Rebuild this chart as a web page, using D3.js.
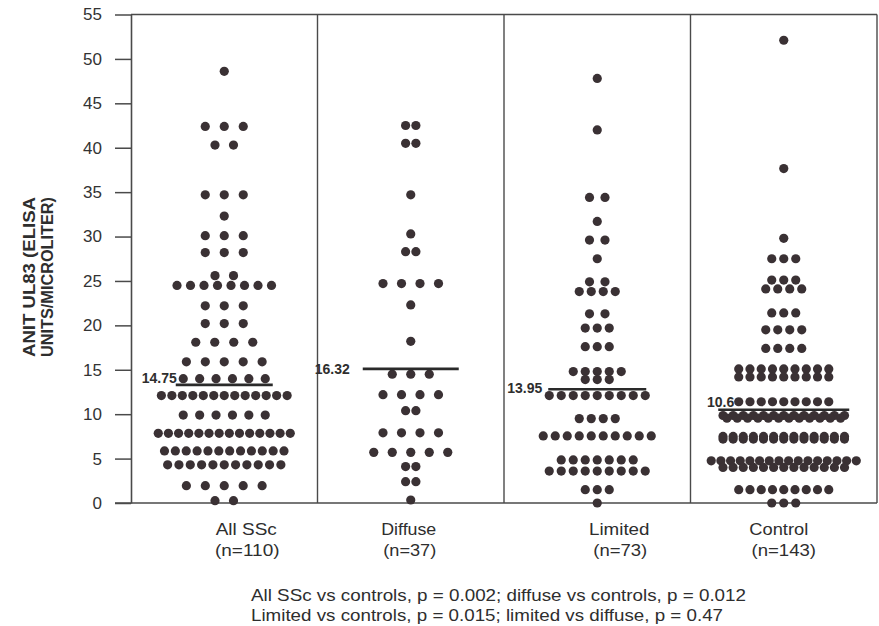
<!DOCTYPE html>
<html><head><meta charset="utf-8">
<script src="https://cdn.jsdelivr.net/npm/d3@7"></script>
<style>body{margin:0;background:#fff} svg{display:block}</style>
</head><body><svg id="c" width="879" height="626"></svg>
<script>
// ---------- data ----------
const categories = ["All SSc", "Diffuse", "Limited", "Control"];
const sampleSizes = ["(n=110)", "(n=37)", "(n=73)", "(n=143)"];
const yTicks = [0, 5, 10, 15, 20, 25, 30, 35, 40, 45, 50, 55];
const yTitle = ["ANIT UL83 (ELISA", "UNITS/MICROLITER)"];

// each row: dots sharing the same value (value, number of dots)
const sscRowValues = [48.6, 42.4, 40.3, 34.7, 32.3, 30.1, 28.2, 25.6, 24.5, 22.2, 20.2, 18.1, 15.9, 14.0, 12.1, 9.9, 7.85, 5.86, 4.3, 1.95, 0.26];
const sscRowCounts = [1, 3, 2, 3, 1, 3, 3, 2, 8, 3, 3, 4, 5, 6, 13, 6, 14, 12, 11, 5, 2];

const diffuseRowValues = [42.5, 40.5, 34.7, 30.3, 28.3, 24.7, 22.3, 18.2, 14.5, 12.2, 10.4, 7.9, 5.7, 4.1, 2.4, 0.34];
const diffuseRowCounts = [2, 2, 1, 1, 2, 4, 1, 1, 3, 4, 2, 4, 5, 2, 2, 1];

const limitedRowValues = [47.8, 42.0, 34.4, 31.7, 29.6, 27.5, 24.9, 23.8, 21.3, 19.7, 17.6, 14.8, 13.9, 12.1, 9.5, 7.55, 4.85, 3.6, 1.5, 0.0];
const limitedRowCounts = [1, 1, 2, 1, 2, 1, 2, 4, 2, 3, 3, 5, 3, 9, 4, 10, 7, 9, 3, 1];

const controlRowValues = [52.1, 37.65, 29.8, 27.5, 25.1, 24.1, 21.4, 19.5, 17.4, 15.1, 14.2, 11.4, 9.85, 9.55, 7.5, 7.2, 4.75, 4.0, 1.5, 0.0];
const controlRowCounts = [1, 1, 1, 3, 3, 4, 3, 4, 4, 9, 9, 9, 13, 12, 13, 13, 16, 13, 9, 3];

// horizontal reference line drawn in each group, and its printed label
const meanLineValues = [13.3, 15.1, 12.8, 10.5];
const meanLabels = ["14.75", "16.32", "13.95", "10.6"];

const footnotes = [
  "All SSc vs controls, p = 0.002; diffuse vs controls, p = 0.012",
  "Limited vs controls, p = 0.015; limited vs diffuse, p = 0.47"
];

const groupRows = [
  [sscRowValues, sscRowCounts],
  [diffuseRowValues, diffuseRowCounts],
  [limitedRowValues, limitedRowCounts],
  [controlRowValues, controlRowCounts]
];

// ---------- layout / style ----------
const plot = {left: 131, right: 877, top: 14.5, bottom: 503};
const dotR = 4.6, dotColor = "#3a3134", ink = "#2e2e2e", lineInk = "#4a4a4a";
// row width = min(base*(n-1), a + b*n); pairs use their own gap
const spacingCfg = [
  {base: 19, pair: 18.5, a: 44.5, b: 6.25},
  {base: 18.5, pair: 10.3, a: 1e4, b: 0},
  {base: 12, pair: 15.5, a: 1e4, b: 0},
  {base: 12, pair: 12, a: 19.3, b: 7.86}
];
const meanHalfWidth = [48.5, 48, 49, 65.5];
const meanLabelDx = [1, -13, -6, 16];
const meanLabelDy = [-7, 0, -1, -8];
const catLabelDx = [22, -2, 22, -5];
const catLabelW = [61, 55, 60.5, 59];
const nLabelW = [64.5, 53, 54, 64.5];

const svg = d3.select("#c");
const font = "'Liberation Sans', Arial, sans-serif";

const x = d3.scaleBand().domain(categories).range([plot.left, plot.right]).padding(0);
const y = d3.scaleLinear().domain([0, 55]).range([plot.bottom, plot.top]);

// frame + dividers
const g = svg.append("g");
g.append("line").attr("x1", plot.left).attr("x2", plot.right).attr("y1", y(55)).attr("y2", y(55))
  .attr("stroke", lineInk).attr("stroke-width", 1.4);
g.append("line").attr("x1", plot.left - 16).attr("x2", plot.right).attr("y1", y(0)).attr("y2", y(0))
  .attr("stroke", lineInk).attr("stroke-width", 1.6);
categories.forEach((c) => {
  const xe = x(c) + x.bandwidth();
  g.append("line").attr("x1", xe).attr("x2", xe).attr("y1", y(55)).attr("y2", y(0))
    .attr("stroke", lineInk).attr("stroke-width", 1.4);
});

// y axis
const yAxis = d3.axisLeft(y).tickValues(yTicks).tickSize(16).tickPadding(13).tickSizeOuter(0);
const ya = svg.append("g").attr("transform", `translate(${plot.left},0)`).call(yAxis);
ya.select(".domain").attr("stroke", lineInk).attr("stroke-width", 1.6);
ya.selectAll(".tick line").attr("stroke", lineInk).attr("stroke-width", 1.5);
ya.selectAll(".tick text").attr("font-family", font).attr("font-size", 17).attr("fill", "#333");

// y title
yTitle.forEach((t, i) => {
  svg.append("text")
    .attr("transform", `translate(${29 + i * 18.5},277) scale(1.05,1) rotate(-90)`)
    .attr("text-anchor", "middle").attr("dominant-baseline", "central")
    .attr("font-family", font).attr("font-weight", "bold").attr("font-size", 16.5)
    .attr("textLength", 160).attr("lengthAdjust", "spacingAndGlyphs")
    .attr("fill", ink).text(t);
});

// dots
function spacing(cfg, n) {
  if (n <= 1) return 0;
  if (n === 2) return cfg.pair;
  const w = Math.min(cfg.base * (n - 1), cfg.a + cfg.b * n);
  return w / (n - 1);
}
const dots = [];
groupRows.forEach(([vals, counts], gi) => {
  const cx = x(categories[gi]) + x.bandwidth() / 2;
  vals.forEach((v, ri) => {
    const n = counts[ri];
    const s = spacing(spacingCfg[gi], n);
    for (let k = 0; k < n; k++) {
      dots.push({cx: cx + (k - (n - 1) / 2) * s, v});
    }
  });
});
svg.append("g").selectAll("circle").data(dots).join("circle")
  .attr("cx", d => d.cx).attr("cy", d => y(d.v)).attr("r", dotR).attr("fill", dotColor);

// mean lines and labels
categories.forEach((c, i) => {
  const cx = x(c) + x.bandwidth() / 2;
  const x0 = cx - meanHalfWidth[i], x1 = cx + meanHalfWidth[i];
  svg.append("line").attr("x1", x0).attr("x2", x1)
    .attr("y1", y(meanLineValues[i])).attr("y2", y(meanLineValues[i]))
    .attr("stroke", "#2a2a2a").attr("stroke-width", 2.6);
  svg.append("text").attr("x", x0 + meanLabelDx[i]).attr("y", y(meanLineValues[i]) + meanLabelDy[i])
    .attr("text-anchor", "end").attr("dominant-baseline", "central")
    .attr("font-family", font).attr("font-weight", "bold").attr("font-size", 14)
    .attr("fill", ink).text(meanLabels[i]);
});

// category labels
categories.forEach((c, i) => {
  const cx = x(c) + x.bandwidth() / 2 + catLabelDx[i];
  svg.append("text").attr("x", cx).attr("y", 535).attr("text-anchor", "middle")
    .attr("font-family", font).attr("font-size", 17).attr("fill", ink)
    .attr("textLength", catLabelW[i]).attr("lengthAdjust", "spacingAndGlyphs").text(c);
  svg.append("text").attr("x", cx + (i === 3 ? 5 : 1)).attr("y", 556).attr("text-anchor", "middle")
    .attr("font-family", font).attr("font-size", 17).attr("fill", ink)
    .attr("textLength", nLabelW[i]).attr("lengthAdjust", "spacingAndGlyphs").text(sampleSizes[i]);
});

// footnotes
const fnW = [495, 472];
footnotes.forEach((t, i) => {
  svg.append("text").attr("x", 251).attr("y", 601 + i * 19.5)
    .attr("font-family", font).attr("font-size", 16.5).attr("fill", ink)
    .attr("textLength", fnW[i]).attr("lengthAdjust", "spacingAndGlyphs").text(t);
});
</script></body></html>
